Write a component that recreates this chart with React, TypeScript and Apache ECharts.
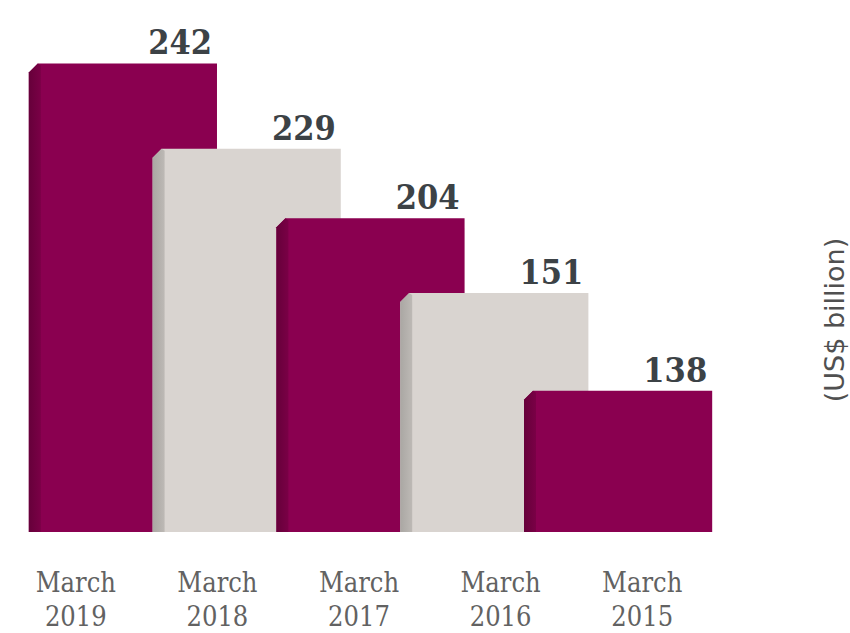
import React, { useEffect, useRef } from "react";
import * as echarts from "echarts";

// Category labels (left to right)
const categories = ["March\n2019", "March\n2018", "March\n2017", "March\n2016", "March\n2015"];
// Printed values (US$ billion)
const values = [242, 229, 204, 151, 138];
// Drawn bar heights as read from the (non-proportional) infographic, in value units
const barHeights = [242, 198, 162, 123.5, 73];
// Colour scheme per bar: 0 = maroon, 1 = grey
const barKinds = [0, 1, 0, 1, 0];
const unitLabel = "(US$ billion)";

const FACE = ["#8a0050", "#d9d4d0"];
const SIDE = ["#66003a", "#aaa7a3"];

export default function App() {
  const ref = useRef<HTMLDivElement>(null);

  useEffect(() => {
    document.body.style.margin = "0";
    if (!ref.current) return;
    const chart = echarts.init(ref.current, undefined, { renderer: "svg" });

    const renderItem = (params: any, api: any) => {
      const idx = api.value(0);
      const h = api.value(1);
      const topPt = api.coord([idx, h]);
      const basePt = api.coord([idx, 0]);
      const band = api.size([1, 0])[0];
      const w = band * 1.52;
      const left = topPt[0] - w / 2;
      const right = topPt[0] + w / 2;
      const top = topPt[1];
      const bottom = basePt[1];
      const kind = barKinds[idx];
      const c = 9;
      const s = 12;
      return {
        type: "group",
        children: [
          {
            type: "polygon",
            shape: {
              points: [
                [left, top + c],
                [left + c, top],
                [right, top],
                [right, bottom],
                [left, bottom],
              ],
            },
            style: { fill: FACE[kind] },
          },
          {
            type: "polygon",
            shape: {
              points: [
                [left, top + c],
                [left + c, top],
                [left + s, top + 2],
                [left + s, bottom],
                [left, bottom],
              ],
            },
            style: {
              fill: new echarts.graphic.LinearGradient(0, 0, 1, 0, [
                { offset: 0, color: SIDE[kind] },
                { offset: 1, color: kind === 0 ? "#7a0046" : "#bdb9b5" },
              ]),
            },
          },
          {
            type: "text",
            style: {
              x: right - 5,
              y: top - 21,
              text: String(values[idx]),
              align: "right",
              verticalAlign: "middle",
              fontFamily: "DejaVu Serif Condensed",
              fontWeight: "bold",
              fontSize: 34,
              fill: "#3c4246",
            },
          },
        ],
      };
    };

    chart.setOption({
      animation: false,
      grid: [
        { left: 5, right: 137, top: 48, bottom: 101 },
        { left: 61, right: 170, top: 48, bottom: 101 },
      ],
      xAxis: [
        {
          type: "category",
          gridIndex: 0,
          data: categories,
          axisLine: { show: false },
          axisTick: { show: false },
          axisLabel: {
            margin: 38,
            fontFamily: "DejaVu Serif Condensed",
            fontSize: 27,
            lineHeight: 34,
            color: "#626262",
          },
        },
        {
          type: "category",
          gridIndex: 1,
          data: categories,
          show: false,
        },
      ],
      yAxis: [
        { type: "value", gridIndex: 0, min: 0, max: 250, show: false },
        { type: "value", gridIndex: 1, min: 0, max: 250, show: false },
      ],
      graphic: [
        {
          type: "text",
          x: 834,
          y: 320,
          rotation: Math.PI / 2,
          style: {
            text: unitLabel,
            align: "center",
            verticalAlign: "middle",
            fontFamily: "DejaVu Sans",
            fontSize: 27,
            fill: "#505050",
          },
        },
      ],
      series: [
        {
          type: "custom",
          xAxisIndex: 1,
          yAxisIndex: 1,
          renderItem,
          data: barHeights.map((h, i) => [i, h]),
        },
      ],
    });

    return () => chart.dispose();
  }, []);

  return <div ref={ref} style={{ width: 850, height: 633 }} />;
}
